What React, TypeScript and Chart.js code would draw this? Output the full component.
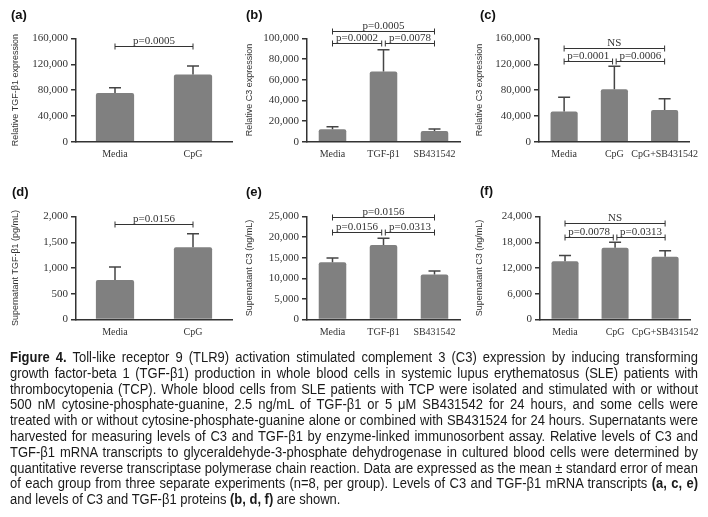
import React, { useEffect, useLayoutEffect, useRef } from 'react';
import { Chart, registerables } from 'chart.js';
Chart.register(...registerables);

// ---------- DATA ----------
const catsA = ['Media', 'CpG'];
const meanA = [75500, 104000];
const errA = [8000, 13500];
const ticksA = [0, 40000, 80000, 120000, 160000];
const bracketsA: [number, number, number, string][] = [[0, 1, 149000, 'p=0.0005']];

const catsB = ['Media', 'TGF-β1', 'SB431542'];
const meanB = [12000, 68000, 10400];
const errB = [2600, 21200, 1900];
const ticksB = [0, 20000, 40000, 60000, 80000, 100000];
const bracketsB: [number, number, number, string][] = [
  [0, 2, 107000, 'p=0.0005'],
  [0, 1, 95800, 'p=0.0002'],
  [1, 2, 95800, 'p=0.0078'],
];

const catsC = ['Media', 'CpG', 'CpG+SB431542'];
const meanC = [47000, 81500, 49300];
const errC = [22000, 35500, 17200];
const ticksC = [0, 40000, 80000, 120000, 160000];
const bracketsC: [number, number, number, string][] = [
  [0, 2, 145500, 'NS'],
  [0, 1, 125700, 'p=0.0001'],
  [1, 2, 125700, 'p=0.0006'],
];

const catsD = ['Media', 'CpG'];
const meanD = [765, 1405];
const errD = [255, 260];
const ticksD = [0, 500, 1000, 1500, 2000];
const bracketsD: [number, number, number, string][] = [[0, 1, 1858, 'p=0.0156']];

const catsE = ['Media', 'TGF-β1', 'SB431542'];
const meanE = [13900, 18100, 10900];
const errE = [1050, 1600, 900];
const ticksE = [0, 5000, 10000, 15000, 20000, 25000];
const bracketsE: [number, number, number, string][] = [
  [0, 2, 24840, 'p=0.0156'],
  [0, 1, 21200, 'p=0.0156'],
  [1, 2, 21200, 'p=0.0313'],
];

const catsF = ['Media', 'CpG', 'CpG+SB431542'];
const meanF = [13600, 16700, 14600];
const errF = [1300, 1300, 1400];
const ticksF = [0, 6000, 12000, 18000, 24000];
const bracketsF: [number, number, number, string][] = [
  [0, 2, 22600, 'NS'],
  [0, 1, 19120, 'p=0.0078'],
  [1, 2, 19120, 'p=0.0313'],
];

// ---------- STYLE ----------
const SERIF = '"Liberation Serif", "DejaVu Serif", serif';
const SANS = '"Liberation Sans", Arial, sans-serif';
const AXIS = '#333333';
const TXT = '#333333';
const BAR = '#808080';
const ERR = '#454545';

type Geo = {
  left: number; top: number; yWidth: number; padRight: number; padTop: number;
  xHeight: number; titlePad: number; barPct: number; cap: number;
};

type Panel = {
  label: string; cats: string[]; means: number[]; errs: number[]; ticks: number[];
  brackets: [number, number, number, string][]; yTitle: string; g: Geo; labelX: number; labelY: number;
};

const W = 236;
const H = 175;

const panels: Panel[] = [
  { label: '(a)', cats: catsA, means: meanA, errs: errA, ticks: ticksA, brackets: bracketsA,
    yTitle: 'Relative TGF-β1 expression', labelX: 11, labelY: 7,
    g: { left: 0, top: 0, yWidth: 76, padRight: 4, padTop: 38.5, xHeight: 33.3, titlePad: 10, barPct: 0.49, cap: 12 } },
  { label: '(b)', cats: catsB, means: meanB, errs: errB, ticks: ticksB, brackets: bracketsB,
    yTitle: 'Relative C3 expression', labelX: 246, labelY: 7,
    g: { left: 236, top: 0, yWidth: 71, padRight: 12, padTop: 38.5, xHeight: 33.3, titlePad: 8, barPct: 0.54, cap: 12 } },
  { label: '(c)', cats: catsC, means: meanC, errs: errC, ticks: ticksC, brackets: bracketsC,
    yTitle: 'Relative C3 expression', labelX: 480, labelY: 7,
    g: { left: 472, top: 0, yWidth: 67, padRight: 18, padTop: 38.5, xHeight: 33.3, titlePad: 2, barPct: 0.54, cap: 12 } },
  { label: '(d)', cats: catsD, means: meanD, errs: errD, ticks: ticksD, brackets: bracketsD,
    yTitle: 'Supernatant TGF-β1 (pg/mL)', labelX: 12, labelY: 184,
    g: { left: 0, top: 175, yWidth: 76, padRight: 4, padTop: 41.5, xHeight: 30.5, titlePad: 10, barPct: 0.49, cap: 12 } },
  { label: '(e)', cats: catsE, means: meanE, errs: errE, ticks: ticksE, brackets: bracketsE,
    yTitle: 'Supernatant C3 (ng/mL)', labelX: 246, labelY: 184,
    g: { left: 236, top: 175, yWidth: 71, padRight: 12, padTop: 41.5, xHeight: 30.5, titlePad: 8, barPct: 0.54, cap: 12 } },
  { label: '(f)', cats: catsF, means: meanF, errs: errF, ticks: ticksF, brackets: bracketsF,
    yTitle: 'Supernatant C3 (ng/mL)', labelX: 480, labelY: 183,
    g: { left: 472, top: 175, yWidth: 68, padRight: 15, padTop: 41.5, xHeight: 30.5, titlePad: 2, barPct: 0.54, cap: 12 } },
];

// ---------- CAPTION ----------
type Seg = [string, boolean];
const captionLines: Seg[][] = [
  [['Figure 4.', true], [' Toll-like receptor 9 (TLR9) activation stimulated complement 3 (C3) expression by inducing transforming', false]],
  [['growth factor-beta 1 (TGF-β1) production in whole blood cells in systemic lupus erythematosus (SLE) patients with', false]],
  [['thrombocytopenia (TCP). Whole blood cells from SLE patients with TCP were isolated and stimulated with or without', false]],
  [['500 nM cytosine-phosphate-guanine, 2.5 ng/mL of TGF-β1 or 5 μM SB431542 for 24 hours, and some cells were', false]],
  [['treated with or without cytosine-phosphate-guanine alone or combined with SB431524 for 24 hours. Supernatants were', false]],
  [['harvested for measuring levels of C3 and TGF-β1 by enzyme-linked immunosorbent assay. Relative levels of C3 and', false]],
  [['TGF-β1 mRNA transcripts to glyceraldehyde-3-phosphate dehydrogenase in cultured blood cells were determined by', false]],
  [['quantitative reverse transcriptase polymerase chain reaction. Data are expressed as the mean ± standard error of mean', false]],
  [['of each group from three separate experiments (n=8, per group). Levels of C3 and TGF-β1 mRNA transcripts ', false], ['(a, c, e)', true]],
  [['and levels of C3 and TGF-β1 proteins ', false], ['(b, d, f)', true], [' are shown.', false]],
];
const CAP_LEFT = 10;
const CAP_TOP = 350;
const CAP_W = 688;
const CAP_LH = 15.8;

function fmt(v: number) {
  return Number(v).toLocaleString('en-US');
}

function BarPanel({ p }: { p: Panel }) {
  const ref = useRef<HTMLCanvasElement | null>(null);
  useEffect(() => {
    if (!ref.current) return;
    const g = p.g;
    const errPlugin = {
      id: 'errbars',
      afterDatasetsDraw(chart: any) {
        const ctx = chart.ctx;
        const meta = chart.getDatasetMeta(0);
        const ys = chart.scales.y;
        ctx.save();
        ctx.strokeStyle = ERR;
        ctx.lineWidth = 1.5;
        meta.data.forEach((bar: any, i: number) => {
          const x = bar.x;
          const y0 = ys.getPixelForValue(p.means[i]);
          const y1 = ys.getPixelForValue(p.means[i] + p.errs[i]);
          ctx.beginPath();
          ctx.moveTo(x, y0);
          ctx.lineTo(x, y1);
          ctx.moveTo(x - g.cap / 2, y1);
          ctx.lineTo(x + g.cap / 2, y1);
          ctx.stroke();
        });
        ctx.restore();
      },
    };
    const brPlugin = {
      id: 'brackets',
      afterDraw(chart: any) {
        const ctx = chart.ctx;
        const xs = chart.scales.x;
        const ys = chart.scales.y;
        ctx.save();
        ctx.strokeStyle = AXIS;
        ctx.lineWidth = 1;
        ctx.fillStyle = TXT;
        ctx.font = `11px ${SERIF}`;
        ctx.textAlign = 'center';
        ctx.textBaseline = 'alphabetic';
        p.brackets.forEach(([a, b, yv, label]) => {
          let x1 = xs.getPixelForValue(a);
          let x2 = xs.getPixelForValue(b);
          p.brackets.forEach(([a2, b2, yv2]) => {
            if (yv2 !== yv) return;
            if (b2 === a) x1 += 1.8;
            if (a2 === b) x2 -= 1.8;
          });
          const y = Math.round(ys.getPixelForValue(yv)) + 0.5;
          ctx.beginPath();
          ctx.moveTo(x1, y);
          ctx.lineTo(x2, y);
          ctx.moveTo(x1, y - 3);
          ctx.lineTo(x1, y + 3);
          ctx.moveTo(x2, y - 3);
          ctx.lineTo(x2, y + 3);
          ctx.stroke();
          ctx.fillText(label, (x1 + x2) / 2, y - 3);
        });
        ctx.restore();
      },
    };
    const tickVals = p.ticks;
    const chart = new Chart(ref.current, {
      type: 'bar',
      data: {
        labels: p.cats,
        datasets: [
          {
            data: p.means,
            backgroundColor: BAR,
            borderWidth: 0,
            borderRadius: 2,
            borderSkipped: 'start',
            barPercentage: g.barPct,
            categoryPercentage: 1,
          },
        ],
      },
      options: {
        animation: false,
        responsive: false,
        maintainAspectRatio: false,
        events: [],
        layout: { padding: { top: g.padTop, right: g.padRight, left: 0, bottom: 0 } },
        plugins: { legend: { display: false }, tooltip: { enabled: false }, title: { display: false } },
        scales: {
          x: {
            type: 'category',
            grid: { display: false, drawTicks: false, tickLength: 0 },
            border: { display: true, color: AXIS, width: 1.5 },
            ticks: {
              color: TXT,
              font: { family: SERIF, size: 10 },
              padding: 7,
              maxRotation: 0,
              minRotation: 0,
              autoSkip: false,
            },
            afterFit: (s: any) => {
              s.height = g.xHeight;
            },
          },
          y: {
            type: 'linear',
            min: 0,
            max: tickVals[tickVals.length - 1],
            afterBuildTicks: (s: any) => {
              s.ticks = tickVals.map((v) => ({ value: v }));
            },
            grid: {
              display: true,
              drawOnChartArea: false,
              drawTicks: true,
              tickLength: 5,
              color: AXIS,
              lineWidth: 1.5,
            },
            border: { display: true, color: AXIS, width: 1.5 },
            ticks: {
              color: TXT,
              font: { family: SERIF, size: 11 },
              padding: 3,
              callback: (v: any) => fmt(v),
            },
            title: {
              display: true,
              text: p.yTitle,
              color: TXT,
              font: { family: SANS, size: 9 },
              padding: { top: g.titlePad, bottom: 0 },
            },
            afterFit: (s: any) => {
              s.width = g.yWidth;
            },
          },
        },
      } as any,
      plugins: [errPlugin, brPlugin],
    });
    return () => chart.destroy();
  }, [p]);
  return (
    <>
      <canvas
        ref={ref}
        width={W}
        height={H}
        style={{ position: 'absolute', left: p.g.left, top: p.g.top, width: W, height: H }}
      />
      <div
        style={{
          position: 'absolute',
          left: p.labelX,
          top: p.labelY,
          fontFamily: SANS,
          fontWeight: 'bold',
          fontSize: 13,
          color: '#111',
          lineHeight: '16px',
        }}
      >
        {p.label}
      </div>
    </>
  );
}

function Caption() {
  const refs = useRef<(HTMLSpanElement | null)[]>([]);
  useLayoutEffect(() => {
    const fit = () => {
      const els = refs.current;
      els.forEach((el) => {
        if (!el) return;
        el.style.wordSpacing = '0px';
        el.style.transform = '';
      });
      const widths = els.map((el) => (el ? el.getBoundingClientRect().width : 1));
      let s = 1;
      widths.forEach((w, i) => {
        if (i < captionLines.length - 1) s = Math.min(s, CAP_W / w);
      });
      els.forEach((el, i) => {
        if (!el) return;
        if (i < captionLines.length - 1) {
          const spaces = ((el.textContent || '').match(/ /g) || []).length;
          const extra = CAP_W / s - widths[i];
          el.style.wordSpacing = `${extra / Math.max(1, spaces)}px`;
        }
        el.style.transform = `scaleX(${s})`;
      });
    };
    fit();
    if ((document as any).fonts && (document as any).fonts.ready) {
      (document as any).fonts.ready.then(fit);
    }
  }, []);
  return (
    <div
      style={{
        position: 'absolute',
        left: CAP_LEFT,
        top: CAP_TOP,
        width: CAP_W,
        fontFamily: SANS,
        fontSize: 14,
        lineHeight: `${CAP_LH}px`,
        color: '#1a1a1a',
      }}
    >
      {captionLines.map((segs, i) => (
        <div key={i} style={{ whiteSpace: 'nowrap', height: CAP_LH }}>
          <span
            ref={(el) => {
              refs.current[i] = el;
            }}
            style={{ display: 'inline-block', transformOrigin: 'left center' }}
          >
            {segs.map(([t, b], j) => (
              <span key={j} style={b ? { fontWeight: 'bold' } : undefined}>
                {t}
              </span>
            ))}
          </span>
        </div>
      ))}
    </div>
  );
}

export default function App() {
  return (
    <div
      style={{
        position: 'absolute',
        left: 0,
        top: 0,
        width: 708,
        height: 517,
        background: '#ffffff',
        overflow: 'hidden',
      }}
    >
      {panels.map((p, i) => (
        <BarPanel key={i} p={p} />
      ))}
      <Caption />
    </div>
  );
}
